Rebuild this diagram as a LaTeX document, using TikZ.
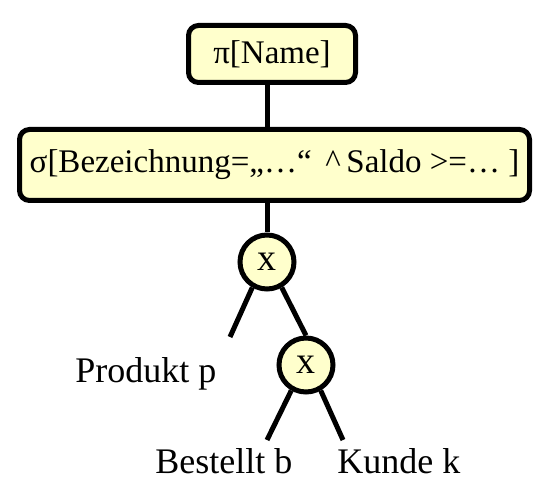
\documentclass[tikz,border=0pt]{standalone}
\usepackage{fontspec}
\setmainfont{Liberation Serif}
\usepackage{tikz}
\usetikzlibrary{shapes.geometric}
\definecolor{paleyellow}{HTML}{FFFFCC}
\tikzstyle{opbox} = [
    rectangle,
    rounded corners=5pt,
    line width=2.5pt,
    fill=paleyellow,
    draw=black,
    inner sep=0pt,
    font=\fontsize{16.5}{20}\selectfont
]
\tikzstyle{crossop} = [
    circle,
    minimum size=27pt,
    line width=2.5pt,
    fill=paleyellow,
    draw=black,
    inner sep=0pt,
    font=\fontsize{19}{22}\selectfont
]
\tikzstyle{relation} = [
    inner sep=0pt,
    anchor=base west,
    font=\fontsize{18}{21}\selectfont
]
\tikzstyle{edge} = [line width=2.5pt]

\begin{document}
\begin{tikzpicture}[x=0.5pt, y=-0.5pt]
\useasboundingbox (0,0) rectangle (551,496);

\node (proj) [opbox, minimum width=83.5pt, minimum height=28.5pt] at (272,54)
{π[Name]};

\node (sel) [opbox, minimum width=255pt, minimum height=35.5pt] at (274.5,165)
{σ[Bezeichnung=„…“ \,\textasciicircum\,Saldo >=… ]};

\node (cross1) [crossop] at (267,262) {x};
\node (cross2) [crossop] at (306,365) {x};

\node (produkt) [relation] at (75,382) {Produkt p};
\node (bestellt) [relation] at (155,473) {Bestellt b};
\node (kunde) [relation] at (337,473) {Kunde k};

\coordinate (pend) at (230,337);
\coordinate (bend) at (267,440);
\coordinate (kend) at (343,440);

\draw [edge] (cross1 |- proj.south) -- (cross1 |- sel.north);
\draw [edge] (cross1 |- sel.south) -- (cross1);
\draw [edge] (cross1.-120) -- (pend);
\draw [edge] (cross1.-60) -- (cross2.north);
\draw [edge] (cross2.-120) -- (bend);
\draw [edge] (cross2.-60) -- (kend);

\end{tikzpicture}
\end{document}
